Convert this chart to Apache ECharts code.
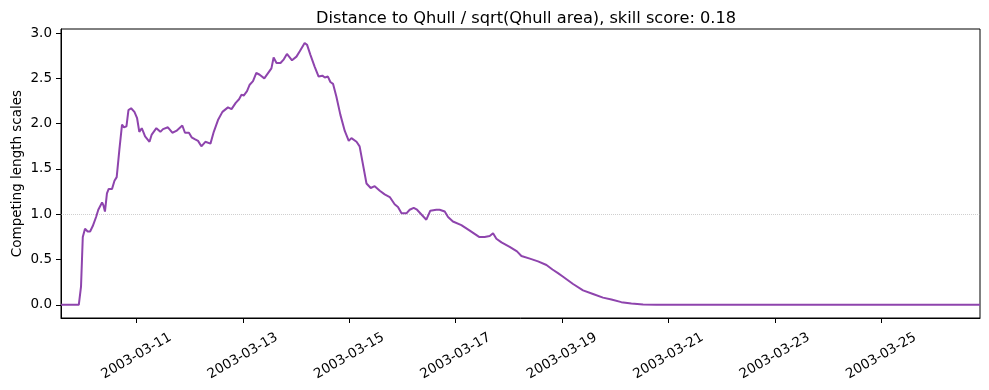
<!DOCTYPE html>
<html>
<head>
<meta charset="utf-8">
<script src="https://cdn.jsdelivr.net/npm/echarts@6/dist/echarts.min.js"></script>
<style>
html,body{margin:0;padding:0;background:#fff;}
#chart{width:989px;height:390px;}
</style>
</head>
<body>
<div id="chart"></div>
<script>
// x values: hours since 2003-03-09 00:00
const hoursSince0309 = [
  14.0, 22.0, 23.0, 23.8, 24.8, 26.0, 27.1, 28.3, 29.8, 30.8,
  31.7, 32.5, 33.1, 33.8, 34.7, 35.5, 37.0, 38.1, 39.1, 40.3,
  41.5, 42.4, 43.5, 44.4, 45.6, 47.1, 48.3, 49.3, 50.4, 51.1,
  51.9, 52.8, 53.9, 54.9, 55.8, 57.0, 57.9, 58.8, 60.0, 60.8,
  62.2, 64.2, 66.0, 68.7, 69.9, 71.7, 72.9, 74.3, 75.8, 77.3,
  79.1, 81.4, 82.9, 84.8, 86.8, 89.3, 90.9, 92.8, 94.3, 95.4,
  96.4, 97.9, 99.1, 100.6, 102.1, 103.6, 105.7, 108.9, 109.9, 111.2,
  113.0, 114.5, 115.9, 116.8, 118.2, 120.2, 121.7, 123.9, 125.0, 126.5,
  128.4, 130.2, 131.0, 131.9, 133.0, 134.4, 135.5, 136.7, 138.2, 140.0,
  142.0, 143.8, 145.0, 147.3, 148.7, 151.8, 153.7, 155.5, 157.8, 160.0,
  162.3, 164.5, 166.0, 167.6, 169.8, 171.3, 173.1, 174.6, 178.8, 180.6,
  183.3, 184.8, 187.1, 188.6, 190.8, 194.6, 198.4, 202.6, 205.1, 207.4,
  208.9, 210.4, 212.7, 216.4, 219.7, 221.7, 225.5, 229.2, 233.0, 235.7,
  238.2, 240.5, 245.0, 249.5, 254.0, 258.5, 262.3, 266.8, 271.3, 276.6,
  282.6, 428.6
];
// Competing length scales
const lengthScaleValues = [
  0.00, 0.00, 0.20, 0.75, 0.84, 0.81, 0.81, 0.87, 0.97, 1.05,
  1.05, 1.13, 1.10, 1.03, 1.23, 1.28, 1.28, 1.37, 1.41, 1.71,
  1.99, 1.96, 1.97, 2.15, 2.17, 2.13, 2.06, 1.91, 1.95, 1.91,
  1.86, 1.86, 1.80, 1.88, 1.86, 1.95, 1.95, 1.91, 1.94, 1.92,
  1.96, 1.90, 1.92, 1.98, 1.90, 1.90, 1.85, 1.83, 1.81, 1.75,
  1.80, 1.78, 1.91, 2.04, 2.13, 2.18, 2.16, 2.23, 2.27, 2.32,
  2.31, 2.36, 2.43, 2.47, 2.56, 2.54, 2.50, 2.61, 2.73, 2.67,
  2.67, 2.71, 2.77, 2.77, 2.70, 2.74, 2.80, 2.89, 2.87, 2.76,
  2.63, 2.52, 2.50, 2.53, 2.51, 2.52, 2.46, 2.44, 2.30, 2.10,
  1.92, 1.81, 1.84, 1.80, 1.75, 1.34, 1.29, 1.31, 1.26, 1.22,
  1.19, 1.11, 1.08, 1.01, 1.01, 1.05, 1.07, 1.05, 0.94, 1.04,
  1.05, 1.05, 1.03, 0.97, 0.92, 0.88, 0.82, 0.75, 0.75, 0.76,
  0.79, 0.73, 0.69, 0.64, 0.59, 0.54, 0.51, 0.48, 0.44, 0.39,
  0.35, 0.31, 0.23, 0.16, 0.12, 0.08, 0.06, 0.03, 0.015, 0.005,
  0.00, 0.00
];
const xTickHours = [48, 96, 144, 192, 240, 288, 336, 384];
const xTickLabels = ['2003-03-11','2003-03-13','2003-03-15','2003-03-17','2003-03-19','2003-03-21','2003-03-23','2003-03-25'];
const yTickValues = [0.0, 0.5, 1.0, 1.5, 2.0, 2.5, 3.0];
const referenceLevel = 1.0;
const titleText = 'Distance to Qhull / sqrt(Qhull area), skill score: 0.18';
const yAxisLabel = 'Competing length scales';

const seriesData = hoursSince0309.map((h, i) => [h, lengthScaleValues[i]]);
const FONT = 'DejaVu Sans';

const chart = echarts.init(document.getElementById('chart'), null, {renderer: 'canvas'});
chart.setOption({
  animation: false,
  backgroundColor: '#ffffff',
  title: {
    text: titleText,
    left: 521,
    top: 6,
    textAlign: 'center',
    textStyle: {fontFamily: FONT, fontSize: 16.2, fontWeight: 'normal', color: '#000'}
  },
  grid: {
    left: 61, right: 9, top: 29, bottom: 72,
    outerBoundsMode: 'none',
    show: true, borderColor: '#000', borderWidth: 1, backgroundColor: 'transparent'
  },
  xAxis: {
    type: 'value',
    min: 13.97,
    max: 428.6,
    splitLine: {show: false},
    axisLine: {show: true, onZero: false, lineStyle: {color: '#000', width: 1}},
    axisTick: {show: true, inside: false, length: 5, customValues: xTickHours, lineStyle: {color: '#000'}},
    axisLabel: {
      customValues: xTickHours,
      rotate: 30,
      align: 'center',
      verticalAlign: 'middle',
      margin: 38,
      fontFamily: FONT, fontSize: 13.5, color: '#000',
      formatter: v => {
        const idx = xTickHours.indexOf(v);
        return idx >= 0 ? xTickLabels[idx] : '';
      }
    }
  },
  yAxis: {
    type: 'value',
    min: -0.145,
    max: 3.045,
    name: yAxisLabel,
    nameLocation: 'middle',
    nameGap: 37,
    nameMoveOverlap: false,
    nameRotate: 90,
    nameTextStyle: {fontFamily: FONT, fontSize: 13.5, color: '#000'},
    splitLine: {show: false},
    axisLine: {show: true, onZero: false, lineStyle: {color: '#000', width: 1}},
    axisTick: {show: true, inside: false, length: 5, customValues: yTickValues, lineStyle: {color: '#000'}},
    axisLabel: {
      customValues: yTickValues,
      margin: 9,
      fontFamily: FONT, fontSize: 13.5, color: '#000',
      formatter: v => v.toFixed(1)
    }
  },
  series: [{
    type: 'line',
    data: seriesData,
    showSymbol: false,
    symbol: 'none',
    lineStyle: {color: '#8e44ad', width: 2},
    z: 3,
    markLine: {
      silent: true,
      symbol: ['none', 'none'],
      label: {show: false},
      lineStyle: {color: '#aaaaaa', type: [1, 1], width: 0.7, opacity: 0.8},
      data: [{yAxis: referenceLevel}],
      z: 1
    }
  }]
});
</script>
</body>
</html>
